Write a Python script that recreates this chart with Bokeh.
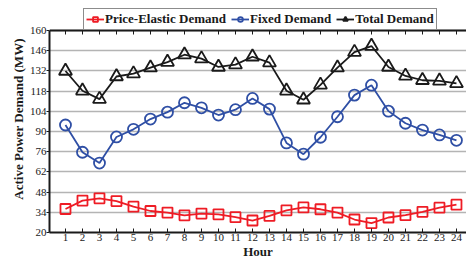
from bokeh.plotting import figure
from bokeh.models import Range1d, LinearAxis, FixedTicker, Legend, LegendItem
from bokeh.embed import file_html
from bokeh.resources import INLINE

hours = list(range(1, 25))
price_elastic = [36.3, 42.1, 43.7, 41.8, 37.9, 34.9, 33.8, 31.9, 33.1, 32.6, 30.6, 28.3,
                 31.5, 35.4, 37.4, 36.1, 33.8, 29.0, 26.5, 30.4, 32.0, 34.3, 37.2, 39.3]
fixed = [94.5, 75.6, 68.1, 86.2, 91.5, 98.6, 103.4, 109.9, 106.4, 101.4, 105.1, 112.9,
         105.5, 82.1, 74.3, 86.0, 100.2, 115.2, 122.1, 104.1, 95.7, 91.0, 87.6, 83.9]
total = [131.9, 118.2, 112.4, 128.1, 130.1, 134.2, 138.1, 143.2, 140.5, 134.7, 136.3, 141.8,
         137.7, 118.2, 112.0, 122.3, 134.2, 145.0, 149.2, 134.7, 128.5, 125.5, 125.1, 123.3]
y_ticks = [20, 34, 48, 62, 76, 90, 104, 118, 132, 146, 160]

RED = "#ee1c25"
BLUE = "#2f4fa5"
BLACK = "#1a1a1a"
FONT = "Liberation Serif"

# frame spans extra room above 160 so that the legend fits inside it
p = figure(width=466, height=261, output_backend="svg", toolbar_location=None,
           x_range=Range1d(0.06, 24.59), y_range=Range1d(20, 177.3),
           min_border_left=49, min_border_right=0, min_border_top=5, min_border_bottom=28)
p.outline_line_color = None
p.background_fill_color = "white"

# axes
p.xaxis.ticker = FixedTicker(ticks=hours)
p.yaxis.ticker = FixedTicker(ticks=y_ticks)
p.yaxis.bounds = (20, 160)
for ax in (p.xaxis[0], p.yaxis[0]):
    ax.axis_line_width = 2
    ax.axis_line_color = BLACK
    ax.major_tick_line_color = BLACK
    ax.major_tick_line_width = 1
    ax.minor_tick_line_color = None
    ax.major_label_text_font = FONT
    ax.major_label_text_font_size = "11px"
    ax.major_label_text_color = BLACK
    ax.axis_label_text_font = FONT
    ax.axis_label_text_font_style = "bold"
    ax.axis_label_text_color = BLACK
p.xaxis.major_tick_in = 4
p.xaxis.major_tick_out = 0
p.xaxis.major_label_standoff = 1
p.xaxis.axis_label = "Hour"
p.xaxis.axis_label_text_font_size = "13px"
p.xaxis.axis_label_standoff = 0
p.yaxis.major_tick_in = 0
p.yaxis.major_tick_out = 3
p.yaxis.major_label_standoff = 0
p.yaxis.axis_label = "Active Power Demand (MW)"
p.yaxis.axis_label_text_font_size = "13px"
p.yaxis.axis_label_standoff = 1

top = LinearAxis(ticker=FixedTicker(ticks=hours), major_label_text_font_size="0px",
                 major_label_standoff=0, fixed_location=160,
                 axis_line_width=2, axis_line_color=BLACK, major_tick_in=4, major_tick_out=0,
                 major_tick_line_color=BLACK, minor_tick_line_color=None)
p.add_layout(top, "above")

p.xgrid.grid_line_color = None
p.ygrid.ticker = FixedTicker(ticks=y_ticks)
p.ygrid.grid_line_color = "#b4b4b4"
p.ygrid.grid_line_width = 1.5

r1 = p.line(hours, price_elastic, line_color=RED, line_width=1.8)
m1 = p.scatter(hours, price_elastic, marker="square", size=10, line_color=RED,
               fill_color=None, line_width=1.8)
r2 = p.line(hours, fixed, line_color=BLUE, line_width=1.8)
m2 = p.scatter(hours, fixed, marker="circle", size=11, line_color=BLUE,
               fill_color=None, line_width=1.8)
r3 = p.line(hours, total, line_color=BLACK, line_width=1.8)
m3 = p.scatter(hours, total, marker="triangle", size=13, line_color=BLACK,
               fill_color=None, line_width=1.8)

legend = Legend(items=[LegendItem(label="Price-Elastic Demand", renderers=[r1, m1]),
                       LegendItem(label="Fixed Demand", renderers=[r2, m2]),
                       LegendItem(label="Total Demand", renderers=[r3, m3])],
                orientation="horizontal", location=(34, 202))
legend.label_text_font = FONT
legend.label_text_font_style = "bold"
legend.label_text_font_size = "13px"
legend.label_text_color = BLACK
legend.border_line_color = BLACK
legend.border_line_width = 1.5
legend.padding = 2
legend.margin = 0
legend.spacing = 5
legend.label_standoff = 1
legend.glyph_width = 18
legend.glyph_height = 12
legend.label_height = 12
legend.background_fill_alpha = 1
p.add_layout(legend, "center")

open("out.html", "w").write(file_html(p, INLINE))
